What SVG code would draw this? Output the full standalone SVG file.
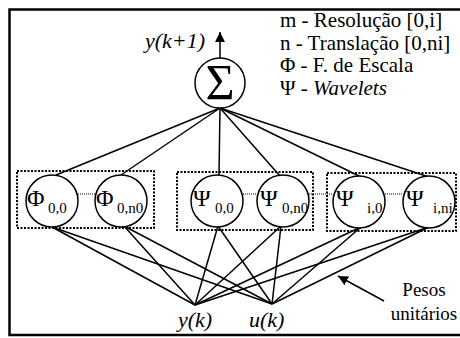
<svg xmlns="http://www.w3.org/2000/svg" width="460" height="338" viewBox="0 0 460 338" font-family="'Liberation Serif', 'Times New Roman', Times, serif">
  <style>
    text { font-family: "Liberation Serif", "Times New Roman", Times, serif; fill: #000; }
    .it { font-style: italic; }
    .node { fill: #fff; stroke: #000; stroke-width: 1.5; }
    .group { fill: none; stroke: #000; stroke-width: 2; stroke-dasharray: 2 1.5; }
    .link { stroke: #000; stroke-width: 1.5; fill: none; }
    .dots { stroke: #000; stroke-width: 1; stroke-dasharray: 1 1; fill: none; }
    .big { font-size: 24px; }
    .sub { font-size: 15px; }
  </style>
  <defs>
    <marker id="head" viewBox="0 0 10 10" refX="10" refY="5" markerWidth="10" markerHeight="10" markerUnits="userSpaceOnUse" orient="auto">
      <path d="M0,0 L10,5 L0,10 Z" fill="#000"/>
    </marker>
  </defs>

  <rect width="460" height="338" fill="#fff"/>
  <!-- outer frame -->
  <path d="M462,9.5 H9.5 V335 H462" fill="none" stroke="#000" stroke-width="2.5"/>

  <!-- legend -->
  <g id="legend" font-size="21">
    <text x="280" y="27">m - Resolução [0,i]</text>
    <text x="280" y="49.5">n - Translação [0,ni]</text>
    <text x="280" y="72">Φ - F. de Escala</text>
    <text x="280" y="94.5">Ψ - <tspan class="it">Wavelets</tspan></text>
  </g>

  <!-- groups of neurons -->
  <rect class="group" x="17" y="171" width="137" height="57"/>
  <rect class="group" x="177" y="172" width="136" height="58"/>
  <rect class="group" x="327" y="173" width="129" height="58"/>

  <!-- connectors -->
  <g id="connectors">
    <line class="link" x1="220" y1="58" x2="220" y2="32" marker-end="url(#head)"/>
    <line class="link" x1="220" y1="108" x2="56" y2="175"/>
    <line class="link" x1="220" y1="108" x2="121" y2="175"/>
    <line class="link" x1="220" y1="108" x2="219" y2="175"/>
    <line class="link" x1="220" y1="108" x2="280" y2="176"/>
    <line class="link" x1="220" y1="108" x2="361" y2="177"/>
    <line class="link" x1="220" y1="108" x2="429" y2="177"/>

    <line class="link" x1="52" y1="227" x2="195" y2="305"/>
    <line class="link" x1="52" y1="227" x2="272" y2="304"/>
    <line class="link" x1="124" y1="226" x2="195" y2="305"/>
    <line class="link" x1="124" y1="226" x2="272" y2="304"/>
    <line class="link" x1="218" y1="226" x2="195" y2="305"/>
    <line class="link" x1="218" y1="226" x2="272" y2="304"/>
    <line class="link" x1="281" y1="226" x2="195" y2="305"/>
    <line class="link" x1="281" y1="226" x2="272" y2="304"/>
    <line class="link" x1="361" y1="227" x2="195" y2="305"/>
    <line class="link" x1="361" y1="227" x2="272" y2="304"/>
    <line class="link" x1="429" y1="227" x2="195" y2="305"/>
    <line class="link" x1="429" y1="227" x2="272" y2="304"/>

    <line class="dots" x1="78" y1="194" x2="95" y2="194"/>
    <line class="dots" x1="243" y1="194" x2="257" y2="194"/>
    <line class="dots" x1="309" y1="194" x2="333" y2="194"/>
    <line class="dots" x1="385" y1="194" x2="403" y2="194"/>

    <line class="link" x1="384" y1="301" x2="338" y2="276" marker-end="url(#head)"/>
  </g>

  <!-- summation node -->
  <g id="sum">
    <circle class="node" cx="220" cy="83" r="25"/>
    <text x="220" y="99" font-size="50" text-anchor="middle">Σ</text>
  </g>
  <text class="it" x="145" y="48" font-size="22">y(k+1)</text>

  <g id="phi00">
    <circle class="node" cx="52" cy="201" r="26"/>
    <text><tspan class="big" x="27" y="206">Φ</tspan><tspan class="sub" x="48" y="213">0,0</tspan></text>
  </g>
  <g id="phi0n0">
    <circle class="node" cx="121" cy="201" r="26"/>
    <text><tspan class="big" x="96" y="206">Φ</tspan><tspan class="sub" x="117" y="213">0,n0</tspan></text>
  </g>
  <g id="psi00">
    <circle class="node" cx="217" cy="201" r="26"/>
    <text><tspan class="big" x="193" y="206">Ψ</tspan><tspan class="sub" x="215" y="213">0,0</tspan></text>
  </g>
  <g id="psi0n0">
    <circle class="node" cx="283" cy="201" r="26"/>
    <text><tspan class="big" x="260" y="206">Ψ</tspan><tspan class="sub" x="282" y="213">0,n0</tspan></text>
  </g>
  <g id="psii0">
    <circle class="node" cx="359" cy="202" r="26"/>
    <text><tspan class="big" x="336" y="206">Ψ</tspan><tspan class="sub" x="367" y="213">i,0</tspan></text>
  </g>
  <g id="psiini">
    <circle class="node" cx="429" cy="202" r="26"/>
    <text><tspan class="big" x="406" y="206">Ψ</tspan><tspan class="sub" x="433" y="213">i,ni</tspan></text>
  </g>

  <g id="inputs" font-size="22">
    <text class="it" x="178" y="327">y(k)</text>
    <text class="it" x="249" y="327">u(k)</text>
  </g>

  <g id="note" font-size="19" text-anchor="middle">
    <text x="424" y="296">Pesos</text>
    <text x="424" y="320">unitários</text>
  </g>
</svg>
